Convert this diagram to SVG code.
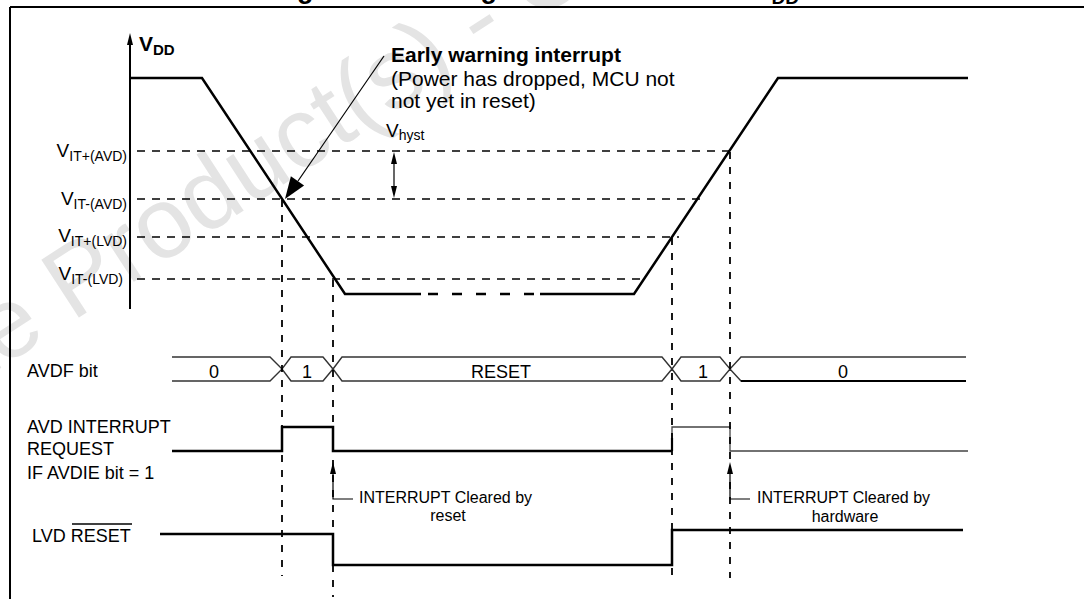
<svg xmlns="http://www.w3.org/2000/svg" width="1084" height="599" viewBox="0 0 1084 599">
<style>
  text { font-family: "Liberation Sans", Arial, sans-serif; fill: #000; }
  .wm { font-size: 100px; fill: #e4e4e4; }
  .title { font-size: 27px; font-weight: bold; }
  .lbl { font-size: 18px; }
  .vl { font-size: 19px; }
  .sub { font-size: 14px; }
  .ann { font-size: 21px; }
  .small { font-size: 16px; }
  .dash { stroke: #000; stroke-width: 1.6; stroke-dasharray: 8 7; fill: none; }
  .vdash { stroke: #000; stroke-width: 1.8; stroke-dasharray: 7 8; fill: none; }
  .thick { stroke: #000; stroke-width: 2.5; fill: none; stroke-linejoin: miter; }
  .thin { stroke: #444; stroke-width: 1.3; fill: none; }
  .bus { stroke: #333; stroke-width: 1.4; fill: none; }
  .ptr { stroke: #000; stroke-width: 1.2; fill: none; }
  .head { fill: #000; stroke: none; }
</style>

<!-- watermark -->
<g id="watermark">
  <text class="wm" transform="translate(-287,555) rotate(-33)">Obsolete Product(s) - Obsolete Product(s)</text>
</g>

<!-- cut-off title -->
<g id="title">
  <text class="title" x="273" y="-2">Figure</text>
  <text class="title" x="422" y="-2">Using the AVD to Monitor V<tspan font-size="19" dy="6">DD</tspan></text>
</g>

<!-- frame -->
<g id="frame">
  <line x1="10" y1="7" x2="1084" y2="7" stroke="#000" stroke-width="2"/>
  <line x1="10" y1="7" x2="10" y2="599" stroke="#000" stroke-width="2"/>
</g>

<!-- VDD axis -->
<g id="axis">
  <line x1="130" y1="44" x2="130" y2="309" stroke="#000" stroke-width="2"/>
  <polygon class="head" points="130,33 127,45 133,45"/>
  <text x="139" y="51" style="font-size:21px;font-weight:bold">V<tspan style="font-size:15px" dy="4">DD</tspan></text>
</g>

<!-- threshold labels -->
<g id="thresholds">
  <text class="vl" x="127" y="157" text-anchor="end">V<tspan class="sub" dy="4">IT+(AVD)</tspan></text>
  <text class="vl" x="127" y="205" text-anchor="end">V<tspan class="sub" dy="4">IT-(AVD)</tspan></text>
  <text class="vl" x="127" y="242" text-anchor="end">V<tspan class="sub" dy="4">IT+(LVD)</tspan></text>
  <text class="vl" x="123" y="280" text-anchor="end">V<tspan class="sub" dy="4">IT-(LVD)</tspan></text>
</g>

<!-- VDD curve -->
<g id="vdd-curve">
  <polyline class="thick" points="130,78 202,78 345,294 421,294"/>
  <line x1="428" y1="294" x2="540" y2="294" stroke="#000" stroke-width="2.5" stroke-dasharray="10 14"/>
  <polyline class="thick" points="540,294 634,294 778,78 968,78"/>
</g>

<!-- annotation -->
<g id="early-warning">
  <text class="ann" x="391" y="62" font-weight="bold">Early warning interrupt</text>
  <text class="ann" x="391" y="86">(Power has dropped, MCU not</text>
  <text class="ann" x="391" y="108">not yet in reset)</text>
</g>

<g id="vhyst">
  <text class="vl" x="386" y="137">V<tspan class="sub" dy="3">hyst</tspan></text>
</g>

<!-- signal labels -->
<g id="avdf-label"><text class="lbl" x="27" y="377">AVDF bit</text></g>
<g id="avd-label">
  <text class="lbl" x="27" y="433">AVD INTERRUPT</text>
  <text class="lbl" x="27" y="455">REQUEST</text>
  <text class="lbl" x="27" y="479">IF AVDIE bit = 1</text>
</g>
<g id="lvd-label">
  <text class="lbl" x="32" y="542">LVD RESET</text>
  <line x1="72" y1="524" x2="132" y2="524" stroke="#000" stroke-width="1.3"/>
</g>

<!-- AVDF bus -->
<g id="avdf-bus">
  <path class="bus" d="M172,357 H270 L282,369 L291,357 H323 L333,369 L342,357 H662 L672,369 L681,357 H720 L730,369 L741,357 H966"/>
  <path class="bus" d="M172,381 H270 L282,369 L291,381 H323 L333,369 L342,381 H662 L672,369 L681,381 H720 L730,369 L741,381 H966"/>
  <line x1="741" y1="381" x2="966" y2="381" stroke="#000" stroke-width="2"/>
  <text class="lbl" x="214" y="378" text-anchor="middle">0</text>
  <text class="lbl" x="307" y="378" text-anchor="middle">1</text>
  <text class="lbl" x="501" y="378" text-anchor="middle">RESET</text>
  <text class="lbl" x="703" y="378" text-anchor="middle">1</text>
  <text class="lbl" x="843" y="378" text-anchor="middle">0</text>
</g>

<!-- AVD interrupt request -->
<g id="avd-signal">
  <path class="thick" d="M172,451 H282 V427 H333 V451 H672"/>
  <path class="thin" d="M672,451 V427 H730 V451 H968"/>
  <line x1="672" y1="451" x2="672" y2="438" stroke="#000" stroke-width="2.2"/>
</g>

<!-- LVD reset -->
<g id="lvd-signal">
  <path class="thick" d="M160,534 H333 V565 H672 V530 H963"/>
</g>

<!-- interrupt cleared notes -->
<g id="note-reset">
  <text class="small" x="359" y="503">INTERRUPT Cleared by</text>
  <text class="small" x="448" y="521" text-anchor="middle">reset</text>
</g>
<g id="note-hardware">
  <text class="small" x="757" y="503">INTERRUPT Cleared by</text>
  <text class="small" x="845" y="522" text-anchor="middle">hardware</text>
</g>

<!-- connectors -->
<g id="connectors">
  <line class="dash" x1="137" y1="151" x2="729" y2="151"/>
  <line class="dash" x1="137" y1="199" x2="700" y2="199"/>
  <line class="dash" x1="137" y1="237" x2="679" y2="237"/>
  <line class="dash" x1="137" y1="279" x2="646" y2="279"/>
  <line class="vdash" x1="282" y1="200" x2="282" y2="576"/>
  <line class="vdash" x1="333" y1="280" x2="333" y2="597"/>
  <line class="vdash" x1="672" y1="238" x2="672" y2="578"/>
  <line class="vdash" x1="730" y1="152" x2="730" y2="578"/>
  <line class="ptr" x1="384" y1="56" x2="298" y2="181"/>
  <polygon class="head" points="285,199 304.1,185.5 290.9,176.3"/>
  <line class="ptr" x1="394" y1="162" x2="394" y2="188"/>
  <polygon class="head" points="394,152 391,164 397,164"/>
  <polygon class="head" points="394,198 391,186 397,186"/>
  <polyline class="ptr" points="333,472 333,499 353,499" stroke-width="1.6"/>
  <polygon class="head" points="333,462 330,474 336,474"/>
  <polyline class="ptr" points="730,472 730,499 750,499" stroke-width="1.6"/>
  <polygon class="head" points="730,462 727,474 733,474"/>
</g>
</svg>
